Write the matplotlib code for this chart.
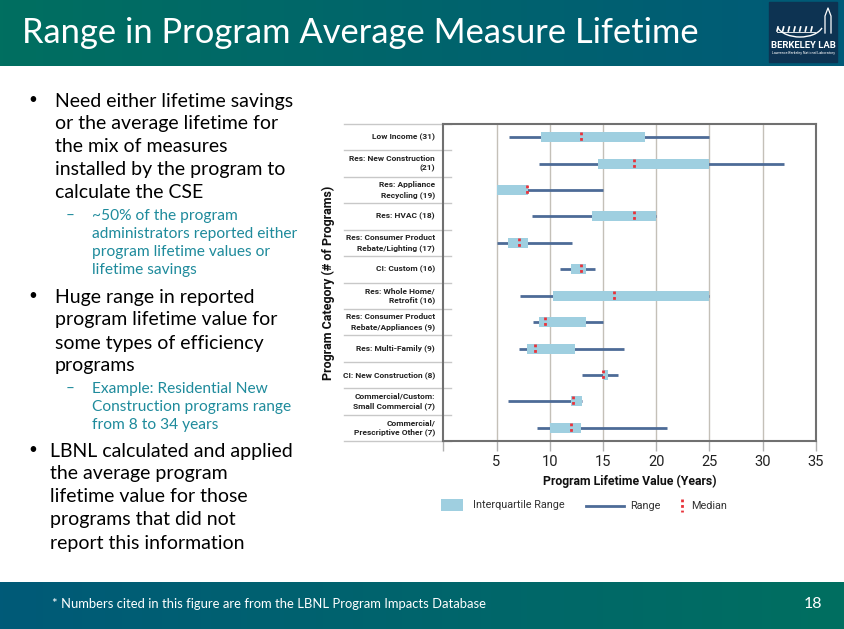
import numpy as np
import matplotlib
matplotlib.use('Agg')
import matplotlib.pyplot as plt
from matplotlib.patches import Rectangle, Arc
from matplotlib.colors import LinearSegmentedColormap
import matplotlib.transforms as mtransforms

# ---------------- data ----------------
categories = ["Low Income (31)", "Res: New Construction\n(21)", "Res: Appliance\nRecycling (19)",
              "Res: HVAC (18)", "Res: Consumer Product\nRebate/Lighting (17)", "CI: Custom (16)",
              "Res: Whole Home/\nRetrofit (16)", "Res: Consumer Product\nRebate/Appliances (9)",
              "Res: Multi-Family (9)", "CI: New Construction (8)",
              "Commercial/Custom:\nSmall Commercial (7)", "Commercial/\nPrescriptive Other (7)"]
range_min = [6.2, 9.0, 5.0, 8.3, 5.0, 11.0, 7.2, 8.4, 7.1, 13.0, 6.1, 8.8]
range_max = [25.0, 32.0, 15.0, 20.0, 12.1, 14.3, 25.0, 15.0, 17.0, 16.4, 13.0, 21.0]
q1 = [9.2, 14.5, 5.0, 14.0, 6.1, 12.0, 10.3, 9.0, 7.9, 15.0, 12.0, 10.0]
q3 = [19.0, 25.0, 8.0, 20.0, 8.0, 13.4, 25.0, 13.4, 12.4, 15.5, 13.0, 12.9]
median = [12.9, 17.9, 7.9, 17.9, 7.1, 12.9, 16.0, 9.6, 8.6, 15.0, 12.2, 12.0]
x_ticks = [0, 5, 10, 15, 20, 25, 30, 35]
x_tick_labels = ["", "5", "10", "15", "20", "25", "30", "35"]

title = "Range in Program Average Measure Lifetime"
bullets = [
    ("b", 55, 101, "Need either lifetime savings"),
    ("", 55, 124, "or the average lifetime for"),
    ("", 55, 147, "the mix of measures"),
    ("", 55, 170, "installed by the program to"),
    ("", 55, 193, "calculate the CSE"),
    ("s", 92, 216, "~50% of the program"),
    ("t", 92, 234, "administrators reported either"),
    ("t", 92, 252, "program lifetime values or"),
    ("t", 92, 270, "lifetime savings"),
    ("b", 55, 297, "Huge range in reported"),
    ("", 55, 320, "program lifetime value for"),
    ("", 55, 343, "some types of efficiency"),
    ("", 55, 366, "programs"),
    ("s", 92, 389, "Example: Residential New"),
    ("t", 92, 407, "Construction programs range"),
    ("t", 92, 425, "from 8 to 34 years"),
    ("b", 50, 451, "LBNL calculated and applied"),
    ("", 50, 474, "the average program"),
    ("", 50, 497, "lifetime value for those"),
    ("", 50, 520, "programs that did not"),
    ("", 50, 543, "report this information"),
]
footer = "* Numbers cited in this figure are from the LBNL Program Impacts Database"
page = "18"

# ---------------- style ----------------
W, H = 844, 629
SLIDE_FONT = ['Lato', 'DejaVu Sans']
CHART_FONT = ['Roboto', 'DejaVu Sans']
GREEN = '#006f60'
BLUE = '#005a78'
IQR_C = '#9fcfe0'
RANGE_C = '#4d6b97'
MED_C = '#e8323a'
TEAL_TXT = '#1f8b9c'

fig = plt.figure(figsize=(W / 100, H / 100), dpi=100)
bg = fig.add_axes([0, 0, 1, 1])
bg.axis('off')

# header / footer gradients
cm_h = LinearSegmentedColormap.from_list('h', [GREEN, BLUE])
grad = np.linspace(0, 1, 256).reshape(1, -1)
bg.imshow(grad, cmap=cm_h, extent=[0, W, 66, 0], aspect='auto', zorder=0)
cm_f = LinearSegmentedColormap.from_list('f', [BLUE, GREEN])
bg.imshow(grad, cmap=cm_f, extent=[0, W, H, 582], aspect='auto', zorder=0)
bg.set_xlim(0, W)
bg.set_ylim(H, 0)

bg.text(22, 33, title, color='white', fontsize=24.8, family=SLIDE_FONT, va='center', ha='left')

# logo
bg.add_patch(Rectangle((769, 2), 68, 60, color='#0d3352', zorder=2))
bg.add_patch(Arc((800, 24), 46, 26, theta1=10, theta2=170, color='white', lw=1.0, zorder=3))
for xx in np.linspace(778, 812, 7):
    bg.plot([xx, xx - 1], [27, 31], color='white', lw=1.2, zorder=3)
bg.plot([777, 815], [32, 32], color='white', lw=0.6, zorder=3)
bg.plot([825, 825, 828, 831, 831], [33, 16, 8, 16, 33], color='white', lw=0.9, zorder=3)
bg.text(803, 45, "BERKELEY LAB", color='white', fontsize=6.8, fontweight='bold',
        family=CHART_FONT, ha='center', va='center', zorder=3)
bg.text(803, 53, "Lawrence Berkeley National Laboratory", color='white', fontsize=2.6,
        family=CHART_FONT, ha='center', va='center', zorder=3)

# bullets
for kind, x, y, txt in bullets:
    if kind in ("s", "t"):
        bg.text(x, y, txt, color=TEAL_TXT, fontsize=11.2, family=SLIDE_FONT, va='center', ha='left')
        if kind == "s":
            bg.text(70, y, "\u2013", color=TEAL_TXT, fontsize=11, family=SLIDE_FONT, va='center', ha='center')
    else:
        bg.text(x, y, txt, color='black', fontsize=14, family=SLIDE_FONT, va='center', ha='left')
        if kind == "b":
            bg.text(33, y - 1, "\u2022", color='black', fontsize=11, family=SLIDE_FONT, va='center', ha='center')

# footer
bg.text(52, 604, footer, color='white', fontsize=9.4, family=SLIDE_FONT, va='center', ha='left')
bg.text(813, 604, page, color='white', fontsize=11.5, family=SLIDE_FONT, va='center', ha='center')

# legend
bg.add_patch(Rectangle((441, 499), 22, 12, color=IQR_C, lw=0))
bg.text(473, 505, "Interquartile Range", fontsize=7.8, family=CHART_FONT, color='#333333', va='center')
bg.plot([586, 624], [506, 506], color=RANGE_C, lw=2)
bg.text(630, 506, "Range", fontsize=7.8, family=CHART_FONT, color='#333333', va='center')
bg.plot([682, 682], [499, 512], color=MED_C, lw=2, ls=(0, (1, 1)))
bg.text(691, 506, "Median", fontsize=7.8, family=CHART_FONT, color='#333333', va='center')

# ---------------- chart ----------------
L, R, T, B = 443.3, 815.7, 124, 441
ax = fig.add_axes([L / W, (H - B) / H, (R - L) / W, (B - T) / H])
n = len(categories)
ys = np.arange(n)
ax.set_xlim(0, 35)
ax.set_ylim(n - 0.5, -0.5)
h = 0.38

ax.hlines(ys, range_min, range_max, color=RANGE_C, lw=2, zorder=3)
for i in range(n):
    ax.add_patch(Rectangle((q1[i], ys[i] - h / 2), q3[i] - q1[i], h, color=IQR_C, lw=0, zorder=4))
ax.vlines(median, ys - h / 2, ys + h / 2, color=MED_C, lw=2, linestyles=[(0, (1, 1))], zorder=5)

for xv in x_ticks[1:-1]:
    ax.axvline(xv, color='#c4c0b8', lw=1, zorder=1)

for s in ax.spines.values():
    s.set_color('#707070')
    s.set_linewidth(1.5)

ax.set_xticks(x_ticks)
ax.set_xticklabels(x_tick_labels, fontsize=10.5, family=CHART_FONT, color='#222222')
ax.tick_params(axis='x', length=7, width=1, color='#b0b0b0', pad=3)
ax.set_yticks([])

trans = mtransforms.blended_transform_factory(ax.transAxes, ax.transData)
x0 = (344 - L) / (R - L)
x1 = (451 - L) / (R - L)
for b in np.arange(-0.5, n + 0.5, 1.0):
    ax.plot([x0, x1], [b, b], transform=trans, color='#c8c8c8', lw=1, clip_on=False, zorder=0)
for i, c in enumerate(categories):
    ax.text(-0.022, ys[i], c, transform=trans, ha='right', va='center', multialignment='right',
            fontsize=6.0, fontweight='bold', family=CHART_FONT, color='#222222', linespacing=1.45)

ax.set_xlabel("Program Lifetime Value (Years)", fontsize=8.8, fontweight='bold', family=CHART_FONT,
              color='#111111', labelpad=4)
fig.text(328 / W, 1 - 283 / H, "Program Category (# of Programs)", rotation=90, fontsize=9,
         fontweight='bold', family=CHART_FONT, color='#111111', ha='center', va='center')

fig.savefig('out.png', dpi=100)
